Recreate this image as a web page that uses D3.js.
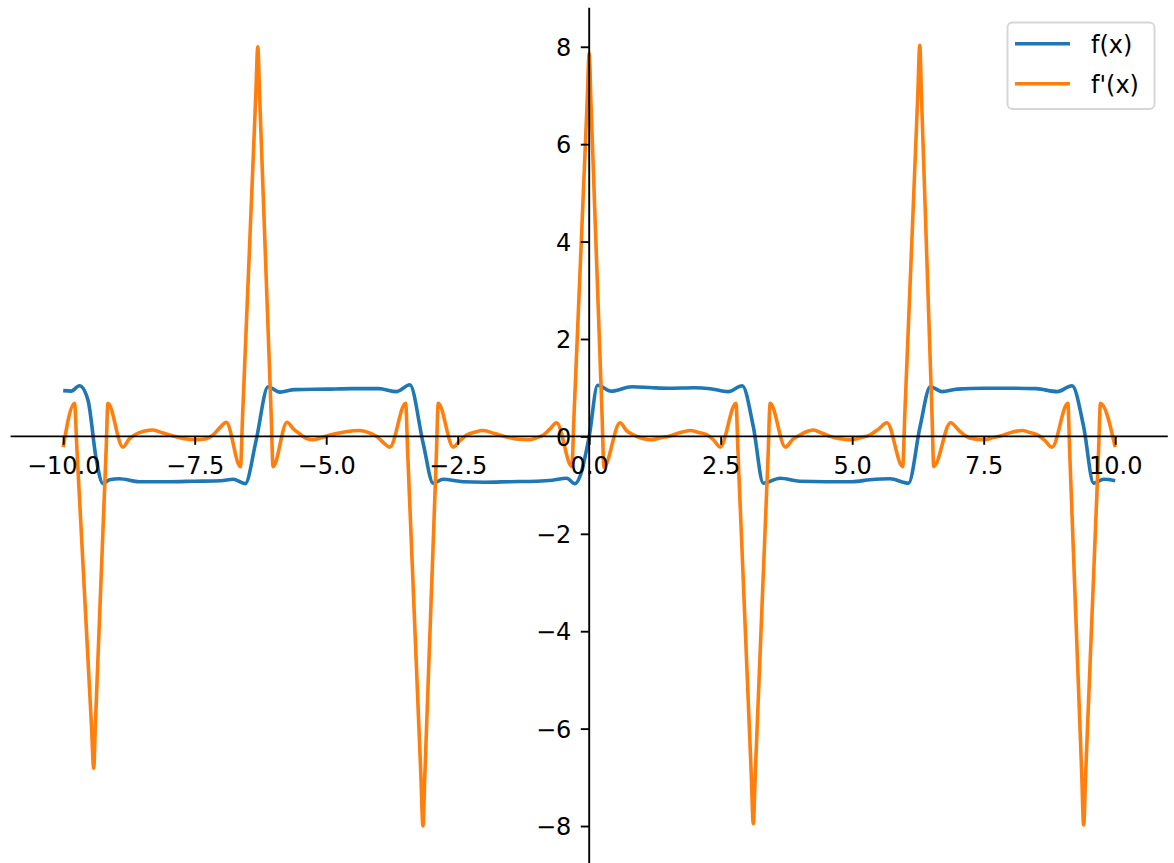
<!DOCTYPE html>
<html><head><meta charset="utf-8">
<script src="https://cdn.jsdelivr.net/npm/d3@7"></script>
<style>html,body{margin:0;padding:0;background:#fff;} svg{display:block;} text{font-family:"DejaVu Sans",sans-serif;}</style>
</head><body><svg id="chart" width="1174" height="863"></svg>
<script>
// f(x) samples
const fX = [-10.00,-9.85,-9.69,-9.53,-9.37,-9.245,-9.12,-8.93,-8.55,-8.00,-7.50,-7.00,-6.77,-6.54,-6.33,-6.105,-5.88,-5.60,-5.00,-4.50,-4.00,-3.66,-3.41,-3.157,-2.966,-2.78,-2.40,-2.00,-1.50,-1.00,-0.70,-0.43,-0.27,-0.175,0.00,0.16,0.42,0.81,1.20,1.50,2.00,2.30,2.64,2.91,3.12,3.31,3.63,4.00,4.50,5.00,5.34,5.72,6.07,6.29,6.485,6.71,7.00,7.50,8.00,8.50,8.90,9.18,9.40,9.59,9.78,10.00];
const fY = [0.94,0.93,1.04,0.75,-0.48,-0.97,-0.89,-0.87,-0.93,-0.93,-0.92,-0.91,-0.88,-0.97,-0.07,1.02,0.91,0.96,0.97,0.98,0.98,0.92,1.06,-0.14,-0.96,-0.88,-0.93,-0.94,-0.93,-0.92,-0.90,-0.86,-0.97,-0.82,0.00,1.05,0.93,1.02,1.00,0.99,1.00,0.98,0.92,1.04,0.20,-0.96,-0.86,-0.92,-0.93,-0.93,-0.89,-0.87,-0.96,0.20,1.02,0.92,0.97,0.99,0.99,0.98,0.92,1.04,0.20,-0.96,-0.88,-0.91];

// f'(x) samples (spike sides included)
const dfX = [-10.00,-9.785,-9.741,-9.464,-9.42,-9.388,-9.182,-9.15,-8.866,-8.75,-8.61,-8.45,-8.295,-8.10,-7.91,-7.70,-7.47,-7.28,-7.15,-7.02,-6.90,-6.63,-6.590,-6.340,-6.30,-6.265,-6.045,-6.01,-5.745,-5.62,-5.50,-5.38,-5.25,-5.10,-4.93,-4.65,-4.36,-4.20,-4.04,-3.92,-3.79,-3.49,-3.450,-3.200,-3.16,-3.125,-2.905,-2.87,-2.585,-2.46,-2.33,-2.17,-2.015,-1.80,-1.57,-1.35,-1.13,-1.00,-0.87,-0.75,-0.62,-0.33,-0.290,-0.040,0.00,0.034,0.246,0.28,0.586,0.71,0.84,1.00,1.157,1.35,1.54,1.73,1.92,2.08,2.24,2.37,2.49,2.79,2.830,3.080,3.12,3.158,3.402,3.44,3.73,3.87,4.01,4.14,4.26,4.42,4.58,4.77,4.96,5.15,5.34,5.50,5.66,5.96,5.999,6.246,6.285,6.317,6.518,6.55,6.87,7.05,7.25,7.50,7.70,7.88,8.05,8.23,8.38,8.52,8.66,8.80,9.10,9.136,9.364,9.40,9.438,9.682,9.72,10.00];
const dfY = [-0.22,0.68,-0.22,-5.91,-6.81,-5.91,-0.22,0.68,-0.22,-0.06,0.05,0.11,0.13,0.07,0.01,-0.05,-0.07,-0.05,0.03,0.18,0.29,-0.62,0.41,6.97,8.00,6.97,0.41,-0.62,0.29,0.15,0.05,-0.04,-0.07,-0.03,0.03,0.09,0.12,0.08,0.00,-0.12,-0.22,0.68,-0.36,-6.96,-8.00,-6.96,-0.36,0.68,-0.22,-0.09,0.03,0.09,0.12,0.06,-0.01,-0.06,-0.07,-0.03,0.03,0.15,0.28,-0.62,0.40,6.84,7.86,6.84,0.39,-0.63,0.28,0.12,0.03,-0.04,-0.07,-0.03,0.01,0.08,0.12,0.08,0.03,-0.08,-0.22,0.68,-0.36,-6.91,-7.95,-6.91,-0.36,0.68,-0.22,-0.06,0.03,0.10,0.13,0.07,0.00,-0.05,-0.07,-0.03,0.03,0.15,0.28,-0.62,0.42,6.99,8.03,6.99,0.42,-0.62,0.28,0.10,-0.04,-0.07,-0.02,0.03,0.09,0.12,0.08,0.03,-0.08,-0.22,0.68,-0.36,-6.94,-7.98,-6.94,-0.36,0.68,-0.22];

const seriesNames = ["f(x)", "f'(x)"];
const seriesColors = ["#1f77b4", "#ff7f0e"];

const xTickValues = [-10, -7.5, -5, -2.5, 0, 2.5, 5, 7.5, 10];
const xTickLabels = ["\u221210.0", "\u22127.5", "\u22125.0", "\u22122.5", "0.0", "2.5", "5.0", "7.5", "10.0"];
const yTickValues = [-8, -6, -4, -2, 0, 2, 4, 6, 8];
const yTickLabels = ["\u22128", "\u22126", "\u22124", "\u22122", "0", "2", "4", "6", "8"];

const svg = d3.select("#chart");
const x = d3.scaleLinear().domain([-11, 11]).range([10.6, 1167.8]);
const y = d3.scaleLinear().domain([-8.8, 8.8]).range([865.0, 7.8]);

const fData = fX.map((v, i) => [v, fY[i]]);
const dfData = dfX.map((v, i) => [v, dfY[i]]);

svg.append("path").datum(fData)
  .attr("fill", "none").attr("stroke", seriesColors[0]).attr("stroke-width", 3.6)
  .attr("stroke-linejoin", "round")
  .attr("d", d3.line().x(d => x(d[0])).y(d => y(d[1])).curve(d3.curveMonotoneX));

svg.append("path").datum(dfData)
  .attr("fill", "none").attr("stroke", seriesColors[1]).attr("stroke-width", 3.6)
  .attr("stroke-linejoin", "round")
  .attr("d", d3.line().x(d => x(d[0])).y(d => y(d[1])).curve(d3.curveMonotoneX));

// spines through origin
svg.append("line").attr("x1", x(-11)).attr("x2", x(11)).attr("y1", y(0)).attr("y2", y(0))
  .attr("stroke", "#000").attr("stroke-width", 1.9);
svg.append("line").attr("x1", x(0)).attr("x2", x(0)).attr("y1", y(8.8)).attr("y2", y(-8.8))
  .attr("stroke", "#000").attr("stroke-width", 1.9);

const gx = svg.append("g").attr("transform", `translate(0,${y(0)})`)
  .call(d3.axisBottom(x).tickValues(xTickValues).tickFormat((d, i) => xTickLabels[i]).tickSize(8.4).tickPadding(8));
gx.select(".domain").remove();
gx.attr("font-size", 24).attr("font-family", "DejaVu Sans");
gx.selectAll(".tick line").attr("stroke", "#000").attr("stroke-width", 1.9);
gx.selectAll(".tick text").attr("fill", "#000").attr("y", 38).attr("dy", 0);

const gy = svg.append("g").attr("transform", `translate(${x(0)},0)`)
  .call(d3.axisLeft(y).tickValues(yTickValues).tickFormat((d, i) => yTickLabels[i]).tickSize(8.4).tickPadding(9.5));
gy.select(".domain").remove();
gy.attr("font-size", 24).attr("font-family", "DejaVu Sans");
gy.selectAll(".tick line").attr("stroke", "#000").attr("stroke-width", 1.9);
gy.selectAll(".tick text").attr("fill", "#000").attr("dy", "0.36em");

// legend
const lg = svg.append("g");
lg.append("rect").attr("x", 1007.5).attr("y", 22.5).attr("width", 147).attr("height", 86.5)
  .attr("rx", 5).attr("fill", "#fff").attr("fill-opacity", 0.8)
  .attr("stroke", "#d6d6d6").attr("stroke-width", 1.9);
seriesNames.forEach((name, i) => {
  const cy = 43.7 + i * 40;
  lg.append("line").attr("x1", 1015).attr("x2", 1070).attr("y1", cy).attr("y2", cy)
    .attr("stroke", seriesColors[i]).attr("stroke-width", 3.6);
  lg.append("text").attr("x", 1091).attr("y", cy + 8.8).attr("font-size", 24)
    .attr("fill", "#000").text(name);
});
</script></body></html>
